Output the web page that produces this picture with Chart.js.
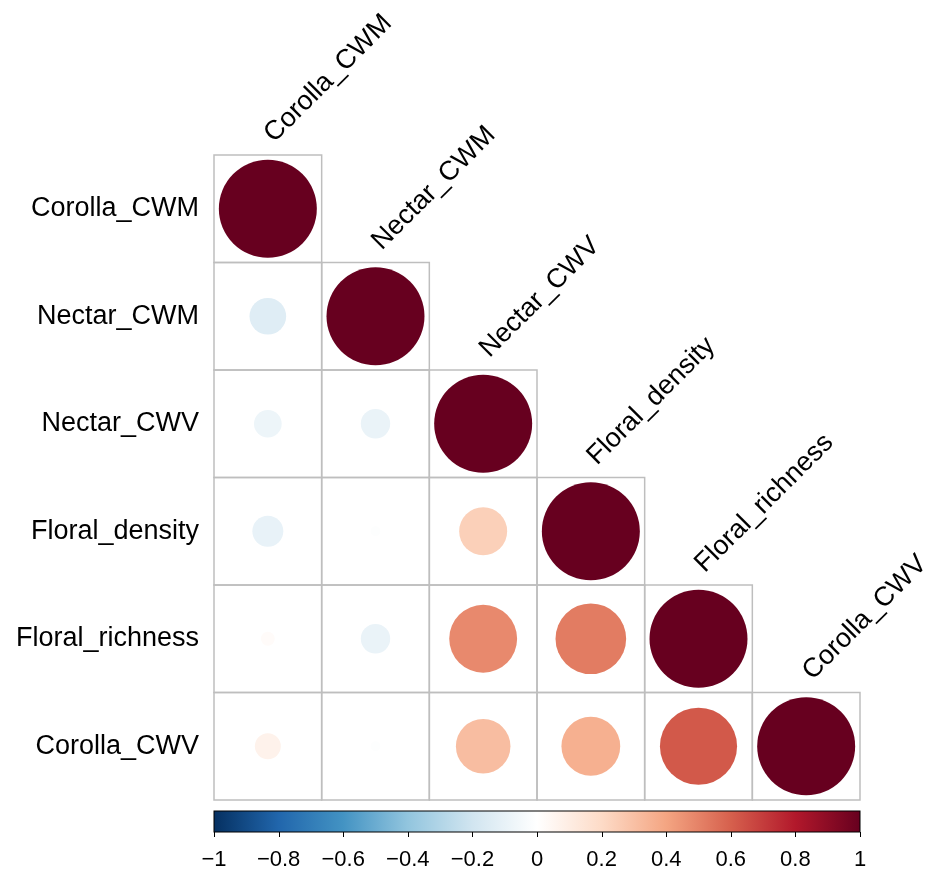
<!DOCTYPE html>
<html>
<head>
<meta charset="utf-8">
<script src="https://cdn.jsdelivr.net/npm/chart.js@4/dist/chart.umd.min.js"></script>
<style>
  html, body { margin: 0; padding: 0; background: #fff; }
  #wrap { width: 930px; height: 874px; }
</style>
</head>
<body>
<div id="wrap"><canvas id="corrCanvas"></canvas></div>
<script>
var varNames = ["Corolla_CWM", "Nectar_CWM", "Nectar_CWV", "Floral_density", "Floral_richness", "Corolla_CWV"];

// lower triangle: row i holds r with columns 0..i
var corrRows = [
  [1],
  [-0.14, 1],
  [-0.08, -0.09, 1],
  [-0.10, -0.01, 0.24, 1],
  [0.02, -0.09, 0.48, 0.52, 1],
  [0.07, -0.01, 0.31, 0.36, 0.62, 1]
];

var colorbarTicks = [-1, -0.8, -0.6, -0.4, -0.2, 0, 0.2, 0.4, 0.6, 0.8, 1];

// RdBu, from -1 to 1
var paletteStops = ["#053061", "#2166AC", "#4393C3", "#92C5DE", "#D1E5F0", "#FFFFFF",
                    "#FDDBC7", "#F4A582", "#D6604D", "#B2182B", "#67001F"];

var FONT = "'Liberation Sans', Arial, Helvetica, sans-serif";

function hexRgb(h) {
  return [parseInt(h.substr(1, 2), 16), parseInt(h.substr(3, 2), 16), parseInt(h.substr(5, 2), 16)];
}

function corrColor(v) {
  var t = (v + 1) / 2 * (paletteStops.length - 1);
  var i = Math.min(paletteStops.length - 2, Math.floor(t));
  var f = t - i;
  var a = hexRgb(paletteStops[i]), b = hexRgb(paletteStops[i + 1]);
  var c = a.map(function (x, k) { return Math.round(x + (b[k] - x) * f); });
  return "rgb(" + c.join(",") + ")";
}

function fmtTick(v) {
  var s = String(Math.abs(Math.round(v * 10) / 10));
  return v < 0 ? "\u2212" + s : s;
}

var points = [];
corrRows.forEach(function (row, i) {
  row.forEach(function (v, j) {
    points.push({ x: j, y: i, v: v });
  });
});

function cellSize(chart) {
  var xs = chart.scales.x;
  return xs.getPixelForValue(1) - xs.getPixelForValue(0);
}

var corrDecor = {
  id: "corrDecor",
  beforeDatasetsDraw: function (chart) {
    var ctx = chart.ctx, xs = chart.scales.x, ys = chart.scales.y;
    ctx.save();
    ctx.strokeStyle = "#bebebe";
    ctx.lineWidth = 1.5;
    corrRows.forEach(function (row, i) {
      row.forEach(function (v, j) {
        var x0 = xs.getPixelForValue(j - 0.5), x1 = xs.getPixelForValue(j + 0.5);
        var y0 = ys.getPixelForValue(i - 0.5), y1 = ys.getPixelForValue(i + 0.5);
        ctx.strokeRect(x0, y0, x1 - x0, y1 - y0);
      });
    });
    ctx.restore();
  },
  afterDraw: function (chart) {
    var ctx = chart.ctx, xs = chart.scales.x, ys = chart.scales.y, cb = chart.scales.cb;
    var area = chart.chartArea;
    ctx.save();

    // column names, tilted above the diagonal
    ctx.fillStyle = "#000";
    ctx.font = "27px " + FONT;
    ctx.textAlign = "left";
    ctx.textBaseline = "middle";
    varNames.forEach(function (name, j) {
      var x = xs.getPixelForValue(j);
      var y = ys.getPixelForValue(j - 0.5);
      ctx.save();
      ctx.translate(x + 1, y - 17);
      ctx.rotate(-Math.PI / 4);
      ctx.fillText(name, 0, 0);
      ctx.restore();
    });

    // colour key
    var bx0 = cb.getPixelForValue(-1), bx1 = cb.getPixelForValue(1);
    var by0 = area.bottom + 11, by1 = area.bottom + 32;
    var grad = ctx.createLinearGradient(bx0, 0, bx1, 0);
    paletteStops.forEach(function (c, k) {
      grad.addColorStop(k / (paletteStops.length - 1), c);
    });
    ctx.fillStyle = grad;
    ctx.fillRect(bx0, by0, bx1 - bx0, by1 - by0);
    ctx.strokeStyle = "#000";
    ctx.lineWidth = 1;
    ctx.strokeRect(bx0, by0, bx1 - bx0, by1 - by0);
    ctx.beginPath();
    colorbarTicks.forEach(function (t) {
      var px = Math.round(cb.getPixelForValue(t)) + 0.5;
      ctx.moveTo(px, by1);
      ctx.lineTo(px, by1 + 5);
    });
    ctx.stroke();
    ctx.restore();
  }
};

new Chart(document.getElementById("corrCanvas"), {
  type: "scatter",
  data: {
    datasets: [{
      data: points,
      pointRadius: function (c) {
        if (!c.raw) return 0;
        return Math.sqrt(Math.abs(c.raw.v)) * cellSize(c.chart) * 0.455;
      },
      pointBackgroundColor: function (c) {
        return c.raw ? corrColor(c.raw.v) : "#fff";
      },
      pointBorderWidth: 0,
      pointBorderColor: "rgba(0,0,0,0)"
    }]
  },
  options: {
    responsive: true,
    maintainAspectRatio: false,
    animation: false,
    events: [],
    layout: { padding: { top: 155, right: 70, left: 0, bottom: 0 } },
    plugins: {
      legend: { display: false },
      tooltip: { enabled: false }
    },
    scales: {
      x: {
        type: "linear",
        min: -0.5,
        max: 5.5,
        display: false
      },
      y: {
        type: "linear",
        reverse: true,
        min: -0.5,
        max: 5.5,
        afterBuildTicks: function (s) {
          s.ticks = varNames.map(function (n, i) { return { value: i }; });
        },
        afterFit: function (s) { s.width = 214; },
        grid: { display: false, drawTicks: false },
        border: { display: false },
        ticks: {
          autoSkip: false,
          padding: 15,
          color: "#000",
          font: { size: 27, family: FONT },
          callback: function (v) { return varNames[v]; }
        }
      },
      cb: {
        type: "linear",
        position: "bottom",
        min: -1,
        max: 1,
        afterBuildTicks: function (s) {
          s.ticks = colorbarTicks.map(function (t) { return { value: t }; });
        },
        afterFit: function (s) { s.height = 74; },
        grid: { display: false, drawTicks: false, tickLength: 0 },
        border: { display: false },
        ticks: {
          autoSkip: false,
          maxRotation: 0,
          padding: 47,
          color: "#000",
          font: { size: 22, family: FONT },
          callback: function (v) { return fmtTick(v); }
        }
      }
    }
  },
  plugins: [corrDecor]
});
</script>
</body>
</html>
